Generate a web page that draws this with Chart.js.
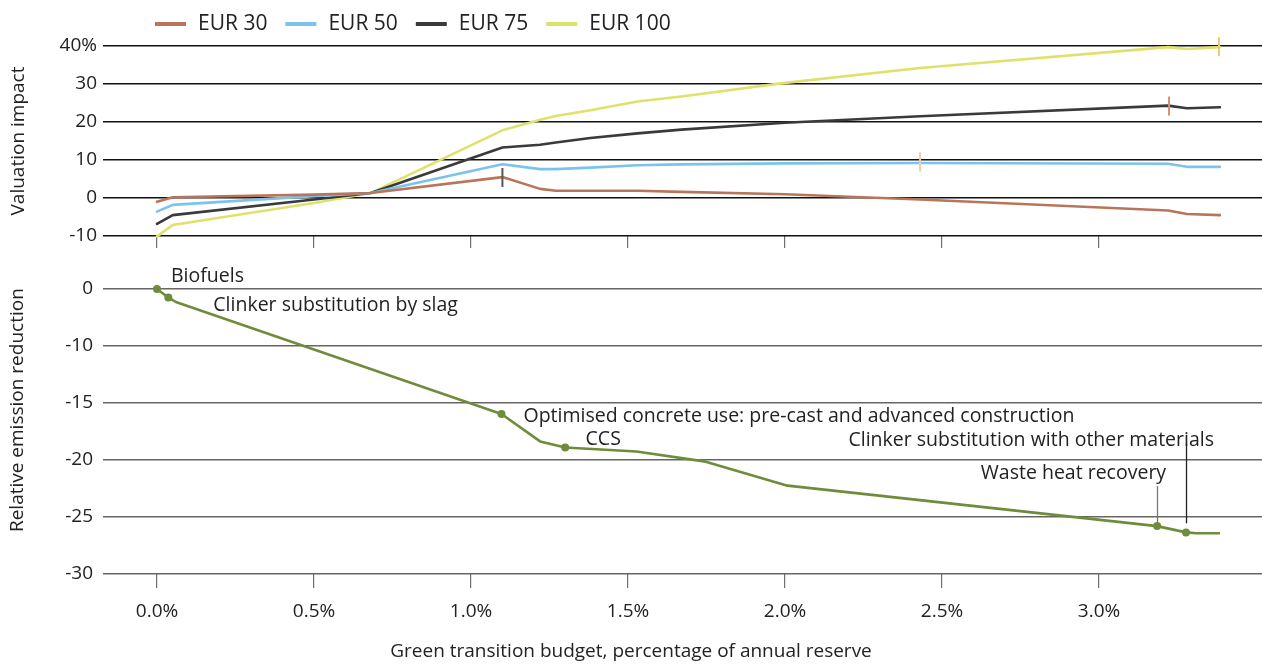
<!DOCTYPE html>
<html>
<head>
<meta charset="utf-8">
<script src="https://cdn.jsdelivr.net/npm/chart.js@4.4.1/dist/chart.umd.min.js"></script>
<style>
  html, body { margin: 0; padding: 0; background: #ffffff; }
  #wrap { position: relative; width: 1262px; height: 664px; }
  #topBox { position: absolute; left: 0; top: 0; width: 1262px; height: 258px; }
  #botBox { position: absolute; left: 0; top: 258px; width: 1262px; height: 406px; }
</style>
</head>
<body>
<div id="wrap">
  <div id="topBox"><canvas id="topChart"></canvas></div>
  <div id="botBox"><canvas id="botChart"></canvas></div>
</div>
<script>
// ---------------- DATA ----------------
// Shared x positions (green transition budget, % of annual reserve) for the valuation lines
const budgetX = [0, 0.05, 0.5, 0.68, 1.10, 1.22, 1.27, 1.38, 1.53, 1.67, 2.0, 2.43, 3.22, 3.28, 3.385];
const eur30  = [-1.0, 0.2, 0.9, 1.3, 5.5, 2.4, 1.9, 1.9, 1.9, 1.6, 1.0, -0.4, -3.3, -4.2, -4.5];
const eur50  = [-3.6, -1.8, 0.5, 1.3, 8.9, 7.6, 7.6, 8.0, 8.6, 8.85, 9.1, 9.2, 9.0, 8.2, 8.2];
const eur75  = [-6.8, -4.5, -0.4, 1.3, 13.3, 14.0, 14.6, 15.8, 17.0, 18.0, 19.8, 21.5, 24.3, 23.6, 23.9];
const eur100 = [-10.1, -7.1, -1.3, 1.3, 17.8, 20.6, 21.6, 23.1, 25.4, 26.7, 30.3, 34.2, 39.7, 39.2, 39.7];
const seriesLabels = ['EUR 30', 'EUR 50', 'EUR 75', 'EUR 100'];

// Vertical markers on each valuation line
const markerX = [1.10, 2.43, 3.223, 3.382];
const markerY = [5.4, 9.5, 24.2, 39.8];

// Emission reduction curve (axis is linear; the top gridline is labelled "0")
const emissionX = [0, 0.036, 0.06, 1.097, 1.22, 1.30, 1.527, 1.742, 2.008, 3.185, 3.277, 3.31, 3.385];
const emissionY = [-5, -5.74, -6.14, -15.96, -18.37, -18.9, -19.25, -20.12, -22.25, -25.8, -26.35, -26.42, -26.42];
const measureIndex = [0, 1, 3, 5, 9, 10];
const measureLabels = ['Biofuels', 'Clinker substitution by slag',
  'Optimised concrete use: pre-cast and advanced construction', 'CCS',
  'Waste heat recovery', 'Clinker substitution with other materials'];

// Tick labels
const xTickValues = [0, 0.5, 1.0, 1.5, 2.0, 2.5, 3.0];
const topYTicks = [40, 30, 20, 10, 0, -10];
const topYTickLabels = ['40%', '30', '20', '10', '0', '-10'];
const botYTicks = [-5, -10, -15, -20, -25, -30];
const botYTickLabels = ['0', '-10', '-15', '-20', '-25', '-30'];
const xTitle = 'Green transition budget, percentage of annual reserve';

// ---------------- STYLE ----------------
const FONT = '"Open Sans", "Noto Sans", sans-serif';
const TEXT = '#222222';
const lineColors = ['#b9755a', '#7cc3ec', '#3a3a3a', '#dfe26a'];
const markerColors = ['#555555', '#f2cba8', '#d98c76', '#efc77a'];
const GREEN = '#6f8c3a';
const X_MIN = -0.172, X_MAX = 3.519;
const TICK_SIZE = 19, TITLE_SIZE = 19, NOTE_SIZE = 19.5, LEGEND_SIZE = 21;

// annotation placement (pixel offsets from the labelled point)
const annotationStyle = [
  { dx: 14, dy: -13, align: 'left' },
  { dx: 45, dy: 8, align: 'left' },
  { dx: 22, dy: 2, align: 'left' },
  { dx: 38, dy: -8, align: 'center' },
  { dx: 9, dy: -53, align: 'right', leader: [-40, -3], leaderColor: '#777777' },
  { dx: 28, dy: -92, align: 'right', leader: [-89, -9], leaderColor: '#222222' }
];

Chart.defaults.font.family = FONT;
Chart.defaults.color = TEXT;

function pts(xs, ys) { return xs.map((x, i) => ({ x: x, y: ys[i] })); }

function xScale(showLabels) {
  return {
    type: 'linear', min: X_MIN, max: X_MAX,
    afterBuildTicks: s => { s.ticks = xTickValues.map(v => ({ value: v })); },
    afterFit: s => { s.height = showLabels ? 90 : 22; },
    border: { display: false },
    grid: { drawOnChartArea: false, drawTicks: true, tickLength: showLabels ? 14 : 12, color: '#6f6f6f', lineWidth: 1.2 },
    ticks: {
      display: showLabels, padding: 12, font: { size: TICK_SIZE }, color: TEXT,
      callback: v => v.toFixed(1) + '%', maxRotation: 0, autoSkip: false
    },
    title: { display: false }
  };
}

const customLegend = {
  id: 'customLegend',
  afterDraw(chart) {
    const ctx = chart.ctx;
    ctx.save();
    ctx.font = LEGEND_SIZE + 'px ' + FONT;
    ctx.textBaseline = 'middle';
    let x = 155; const y = 24;
    chart.data.datasets.filter(d => !d.isMarker).forEach(d => {
      ctx.fillStyle = d.borderColor;
      ctx.fillRect(x, y - 2, 31, 4);
      x += 43;
      ctx.fillStyle = TEXT;
      ctx.fillText(d.label, x, y);
      x += ctx.measureText(d.label).width + 18;
    });
    ctx.restore();
  }
};

const annotations = {
  id: 'annotations',
  afterDatasetsDraw(chart) {
    const ctx = chart.ctx;
    const meta = chart.getDatasetMeta(0);
    ctx.save();
    ctx.font = NOTE_SIZE + 'px ' + FONT;
    ctx.textBaseline = 'middle';
    measureIndex.forEach((idx, k) => {
      const p = meta.data[idx];
      const st = annotationStyle[k];
      if (st.leader) {
        ctx.strokeStyle = st.leaderColor;
        ctx.lineWidth = 1.3;
        ctx.beginPath();
        ctx.moveTo(Math.round(p.x) + 0.5, p.y + st.leader[0]);
        ctx.lineTo(Math.round(p.x) + 0.5, p.y + st.leader[1]);
        ctx.stroke();
      }
      ctx.fillStyle = TEXT;
      ctx.textAlign = st.align;
      ctx.fillText(measureLabels[k], p.x + st.dx, p.y + st.dy);
    });
    ctx.restore();
  }
};

const axisTitles = {
  id: 'axisTitles',
  afterDraw(chart) {
    const ctx = chart.ctx, a = chart.chartArea;
    ctx.save();
    ctx.font = TITLE_SIZE + 'px ' + FONT;
    ctx.fillStyle = TEXT;
    ctx.textAlign = 'center';
    ctx.textBaseline = 'middle';
    // x-axis title, centred on the page width
    ctx.fillText(xTitle, chart.width / 2, chart.height - 12);
    // y-axis title
    ctx.translate(18, a.top + (a.bottom - a.top) * 0.425);
    ctx.rotate(-Math.PI / 2);
    ctx.fillText('Relative emission reduction', 0, 0);
    ctx.restore();
  }
};

function build() {
  const seriesData = [eur30, eur50, eur75, eur100];
  const topDatasets = [];
  markerX.forEach((mx, i) => {
    topDatasets.push({
      isMarker: true, type: 'scatter', label: 'marker ' + seriesLabels[i],
      data: [{ x: mx, y: markerY[i] }],
      pointStyle: 'line', rotation: 90, pointRadius: 9.5, pointHoverRadius: 9.5,
      borderColor: markerColors[i], backgroundColor: markerColors[i], pointBorderWidth: 2, borderWidth: 2,
      showLine: false, clip: false
    });
  });
  seriesData.forEach((arr, i) => {
    topDatasets.push({
      label: seriesLabels[i], data: pts(budgetX, arr),
      borderColor: lineColors[i], backgroundColor: lineColors[i],
      borderWidth: 2.6, pointRadius: 0, tension: 0, borderJoinStyle: 'round', borderCapStyle: 'round',
      clip: false
    });
  });

  new Chart(document.getElementById('topChart'), {
    type: 'line',
    data: { datasets: topDatasets },
    options: {
      responsive: true, maintainAspectRatio: false, animation: false,
      layout: { autoPadding: false, padding: { top: 46, left: 0, right: 0, bottom: 0 } },
      plugins: { legend: { display: false }, tooltip: { enabled: false } },
      scales: {
        x: xScale(false),
        y: {
          min: -10, max: 40,
          afterBuildTicks: s => { s.ticks = topYTicks.map(v => ({ value: v })); },
          afterFit: s => { s.width = 103; },
          border: { display: false },
          grid: { drawTicks: false, color: '#111111', lineWidth: 1.5 },
          ticks: {
            padding: 6, font: { size: TICK_SIZE }, color: TEXT,
            callback: v => topYTickLabels[topYTicks.indexOf(v)]
          },
          title: { display: true, text: 'Valuation impact', font: { size: TITLE_SIZE }, color: TEXT, padding: { top: 7, bottom: 0 } }
        }
      }
    },
    plugins: [customLegend]
  });

  new Chart(document.getElementById('botChart'), {
    type: 'line',
    data: {
      datasets: [{
        label: 'Relative emission reduction',
        data: pts(emissionX, emissionY),
        borderColor: GREEN, backgroundColor: GREEN, borderWidth: 2.6, tension: 0,
        borderJoinStyle: 'round', clip: false,
        pointRadius: emissionX.map((_, i) => measureIndex.includes(i) ? 4 : 0),
        pointBorderWidth: 0, pointBackgroundColor: GREEN
      }]
    },
    options: {
      responsive: true, maintainAspectRatio: false, animation: false,
      layout: { autoPadding: false, padding: { top: 31, left: 0, right: 0, bottom: 0 } },
      plugins: { legend: { display: false }, tooltip: { enabled: false } },
      scales: {
        x: xScale(true),
        y: {
          min: -30, max: -5,
          afterBuildTicks: s => { s.ticks = botYTicks.map(v => ({ value: v })); },
          afterFit: s => { s.width = 103; },
          border: { display: false },
          grid: { drawTicks: false, color: '#666666', lineWidth: 1.5 },
          ticks: {
            padding: 10, font: { size: TICK_SIZE }, color: TEXT,
            callback: v => botYTickLabels[botYTicks.indexOf(v)]
          },
          title: { display: false }
        }
      }
    },
    plugins: [annotations, axisTitles]
  });
}

if (document.fonts && document.fonts.load) {
  Promise.all([document.fonts.load('17px "Open Sans"'), document.fonts.load('20px "Open Sans"')])
    .then(build, build);
} else { build(); }
</script>
</body>
</html>
